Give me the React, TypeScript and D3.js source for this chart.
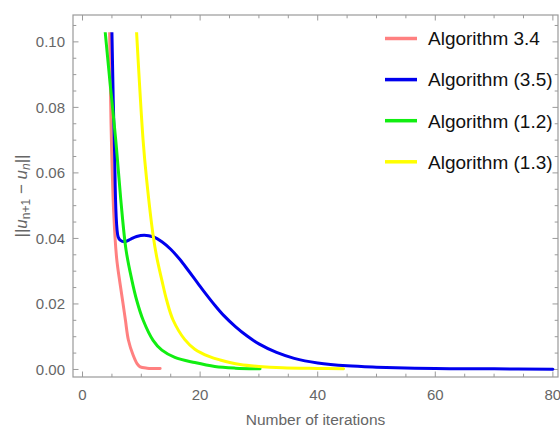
import React from 'react';
import * as d3 from 'd3';

// values: [iteration, ||u_{n+1} - u_n||]
const alg34: [number, number][] = [
    [4.55, 0.112], [4.85, 0.075], [5.3, 0.048], [5.8, 0.034], [6.4, 0.026], [6.9, 0.02],
    [7.3, 0.015], [7.8, 0.009], [8.6, 0.0044], [9.3, 0.0017], [9.8, 0.0008], [11, 0.0004],
    [13.2, 0.0003],
];
const alg35: [number, number][] = [
    [4.95, 0.112], [5.0, 0.103], [5.4, 0.07], [6.05, 0.0405], [6.4, 0.0395], [7.2, 0.039],
    [8.2, 0.0398], [9.2, 0.0406], [10.5, 0.041], [12, 0.0405], [13.5, 0.039], [15, 0.0367],
    [16.5, 0.0337], [18, 0.0302], [19.5, 0.0266], [21, 0.023], [22.5, 0.0196], [24, 0.0165],
    [26, 0.0131], [28, 0.0102], [30, 0.0078], [33, 0.0052], [36, 0.0034], [40, 0.002],
    [45, 0.0011], [50, 0.0007], [60, 0.0003], [70, 0.0002], [80, 0.0001],
];
const alg12: [number, number][] = [
    [3.7, 0.106], [4.6, 0.089], [5.65, 0.07], [6.5, 0.052], [7.4, 0.0365], [8.4, 0.0272],
    [9.2, 0.0212], [10.3, 0.0151], [12, 0.0089], [13.5, 0.0059], [15.7, 0.0037], [19.1, 0.0021],
    [22.5, 0.0009], [26, 0.0004], [30.2, 0.0002],
];
const alg13: [number, number][] = [
    [9.1, 0.106], [10.3, 0.07], [10.9, 0.058], [12, 0.041], [12.6, 0.0345], [13.5, 0.0272],
    [14.3, 0.0212], [15.4, 0.0151], [17.4, 0.0091], [19.1, 0.0062], [21.5, 0.004], [23.4, 0.0029],
    [26.8, 0.0015], [30, 0.0009], [34, 0.0005], [40, 0.0003], [44.4, 0.0002],
];

const seriesNames = ['Algorithm 3.4', 'Algorithm (3.5)', 'Algorithm (1.2)', 'Algorithm (1.3)'];
const seriesColors = ['#ff8080', '#0000ee', '#11ee11', '#ffff00'];
const seriesData = [alg34, alg35, alg12, alg13];

const xTicks = [0, 20, 40, 60, 80];
const xMinor = d3.range(0, 81, 5).filter(v => v % 20 !== 0);
const yTicks = [0, 0.02, 0.04, 0.06, 0.08, 0.1];
const yMinor = d3.range(0, 22).map(i => i * 0.005).filter((v, i) => i % 4 !== 0);

const W = 560;
const H = 432;
const LEFT = 73, RIGHT = 558, TOP = 15, BOTTOM = 377;
const FRAME = '#9a9a9a';
const LABEL = '#666';
const FONT = "'Liberation Sans', Arial, sans-serif";

const App = () => {
    const x = d3.scaleLinear().domain([-1.62, 80.87]).range([LEFT, RIGHT]);
    const y = d3.scaleLinear().domain([-0.0023, 0.1082]).range([BOTTOM, TOP]);
    const clipTop = y(0.1029);

    const line = d3.line<[number, number]>()
        .x(d => x(d[0]))
        .y(d => y(d[1]))
        .curve(d3.curveCatmullRom.alpha(0.5));

    const MAJ = 5.5, MIN = 3.3;

    return (
        <svg width={W} height={H} style={{ position: 'absolute', left: 0, top: 0, background: '#fff' }}
            fontFamily={FONT}>
            <defs>
                <clipPath id="plot-clip">
                    <rect x={LEFT} y={clipTop} width={RIGHT - LEFT} height={BOTTOM - clipTop} />
                </clipPath>
            </defs>

            {/* frame */}
            <rect x={LEFT} y={TOP} width={RIGHT - LEFT} height={BOTTOM - TOP} fill="none" stroke={FRAME} strokeWidth={1.2} />

            {/* x ticks, bottom and top */}
            {xTicks.map(t => (
                <g key={'xt' + t}>
                    <line x1={x(t)} x2={x(t)} y1={BOTTOM} y2={BOTTOM - MAJ} stroke={FRAME} />
                    <line x1={x(t)} x2={x(t)} y1={TOP} y2={TOP + MAJ} stroke={FRAME} />
                    <text x={x(t)} y={400} textAnchor="middle" fontSize={15} fill={LABEL}>{t}</text>
                </g>
            ))}
            {xMinor.map(t => (
                <g key={'xm' + t}>
                    <line x1={x(t)} x2={x(t)} y1={BOTTOM} y2={BOTTOM - MIN} stroke={FRAME} />
                    <line x1={x(t)} x2={x(t)} y1={TOP} y2={TOP + MIN} stroke={FRAME} />
                </g>
            ))}

            {/* y ticks, left and right */}
            {yTicks.map(t => (
                <g key={'yt' + t}>
                    <line x1={LEFT} x2={LEFT + MAJ} y1={y(t)} y2={y(t)} stroke={FRAME} />
                    <line x1={RIGHT} x2={RIGHT - MAJ} y1={y(t)} y2={y(t)} stroke={FRAME} />
                    <text x={65} y={y(t)} dy="0.36em" textAnchor="end" fontSize={15} fill={LABEL}>{t.toFixed(2)}</text>
                </g>
            ))}
            {yMinor.map(t => (
                <g key={'ym' + t}>
                    <line x1={LEFT} x2={LEFT + MIN} y1={y(t)} y2={y(t)} stroke={FRAME} />
                    <line x1={RIGHT} x2={RIGHT - MIN} y1={y(t)} y2={y(t)} stroke={FRAME} />
                </g>
            ))}

            {/* curves */}
            <g clipPath="url(#plot-clip)">
                {seriesData.map((d, i) => (
                    <path key={seriesNames[i]} d={line(d) || ''} fill="none" stroke={seriesColors[i]}
                        strokeWidth={3} strokeLinejoin="round" strokeLinecap="round" />
                ))}
            </g>

            {/* axis labels */}
            <text x={(LEFT + RIGHT) / 2} y={425} textAnchor="middle" fontSize={15.5} fill={LABEL}>Number of iterations</text>
            <text transform={`translate(27,${(TOP + BOTTOM) / 2}) rotate(-90)`} textAnchor="middle" fontSize={17} fill={LABEL}>
                <tspan>||</tspan>
                <tspan fontStyle="italic">u</tspan>
                <tspan fontSize={12} dy={3}>n+1</tspan>
                <tspan dy={-3}> − </tspan>
                <tspan fontStyle="italic">u</tspan>
                <tspan fontSize={12} fontStyle="italic" dy={3}>n</tspan>
                <tspan dy={-3}>||</tspan>
            </text>

            {/* legend */}
            {seriesNames.map((name, i) => {
                const ly = 38.5 + i * 41.1;
                return (
                    <g key={'lg' + name}>
                        <line x1={385} x2={417} y1={ly} y2={ly} stroke={seriesColors[i]} strokeWidth={3.5} />
                        <text x={428} y={ly} dy="0.36em" fontSize={19} fill="#111">{name}</text>
                    </g>
                );
            })}
        </svg>
    );
};

export default App;
